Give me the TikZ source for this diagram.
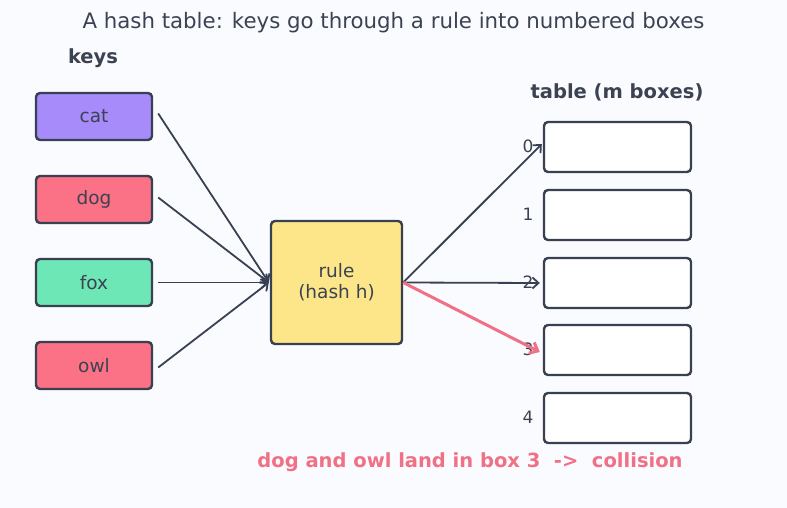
\documentclass[tikz,border=0pt]{standalone}
\usepackage{fontspec}
\setmainfont{DejaVu Sans}
\usetikzlibrary{arrows.meta}
\definecolor{bg}{HTML}{FAFBFE}
\definecolor{ink}{HTML}{374151}
\definecolor{txt}{HTML}{3B4252}
\definecolor{catc}{HTML}{A78BFA}
\definecolor{dogc}{HTML}{FB7185}
\definecolor{foxc}{HTML}{6EE7B7}
\definecolor{rulec}{HTML}{FDE68A}
\definecolor{redc}{HTML}{F07185}
\tikzset{
  keybox/.style={draw=ink, line width=2.4pt, rounded corners=4pt, minimum width=116pt, minimum height=47pt, inner sep=0pt, text=txt, font=\fontsize{18.5}{21}\selectfont},
  slot/.style={draw=ink, line width=2.4pt, rounded corners=4pt, fill=white, minimum width=147pt, minimum height=50pt, inner sep=0pt},
  idx/.style={text=txt, font=\fontsize{17}{19}\selectfont, inner sep=0pt},
  conn/.style={draw=ink, line width=1.8pt, -{Straight Barb[length=6pt,width=11pt,line width=1.8pt]}},
  hot/.style={draw=redc, line width=3pt, -{Straight Barb[length=7pt,width=12pt,line width=3pt]}},
  hdr/.style={text=txt, font=\bfseries\fontsize{19.5}{22}\selectfont, inner sep=0pt}
}
\begin{document}
\begin{tikzpicture}[x=1pt,y=-1pt]
\useasboundingbox[fill=bg] (0,0) rectangle (787,508);
\node[text=txt, font=\fontsize{21.3}{24}\selectfont, inner sep=0pt] (title) at (393.5,23) {A hash table: keys go through a rule into numbered boxes};
\node[hdr] (keys) at (93,58) {keys};
\node[hdr] (tbl) at (617,92) {table (m boxes)};

\node[keybox, fill=catc] (cat) at (94,116.5) {cat};
\node[keybox, fill=dogc] (dog) at (94,199.5) {dog};
\node[keybox, fill=foxc] (fox) at (94,282.5) {fox};
\node[keybox, fill=dogc] (owl) at (94,365.5) {owl};

\node[draw=ink, line width=2.4pt, rounded corners=4pt, fill=rulec, minimum width=131pt, minimum height=123pt, inner sep=0pt, align=center, text=txt, font=\fontsize{18.5}{21}\selectfont] (rule) at (336.5,282.5) {rule\\(hash h)};

\foreach \i/\y in {0/147,1/215,2/283,3/350,4/418}{
  \node[slot] (t\i) at (617.5,\y) {};
  \node[idx] (i\i) at (528,\y-1) {\i};
}

\draw[conn] ([xshift=5pt,yshift=3pt]cat.east) -- ([xshift=-1pt]rule.west);
\draw[conn] ([xshift=5pt,yshift=2pt]dog.east) -- ([xshift=-1pt]rule.west);
\draw[conn] ([xshift=5pt]fox.east) -- ([xshift=-1pt]rule.west);
\draw[conn] ([xshift=5pt,yshift=-2pt]owl.east) -- ([xshift=-1pt]rule.west);

\draw[conn] (rule.east) -- ([xshift=-1pt,yshift=3pt]t0.west);
\draw[conn] (rule.east) -- ([xshift=-3pt]t2.west);
\draw[hot] (rule.east) -- ([xshift=-3pt,yshift=-2pt]t3.west);

\node[text=redc, font=\bfseries\fontsize{19.5}{22}\selectfont, inner sep=0pt] (note) at (470,462) {dog and owl land in box 3\ \ ->\ \ collision};
\end{tikzpicture}
\end{document}
